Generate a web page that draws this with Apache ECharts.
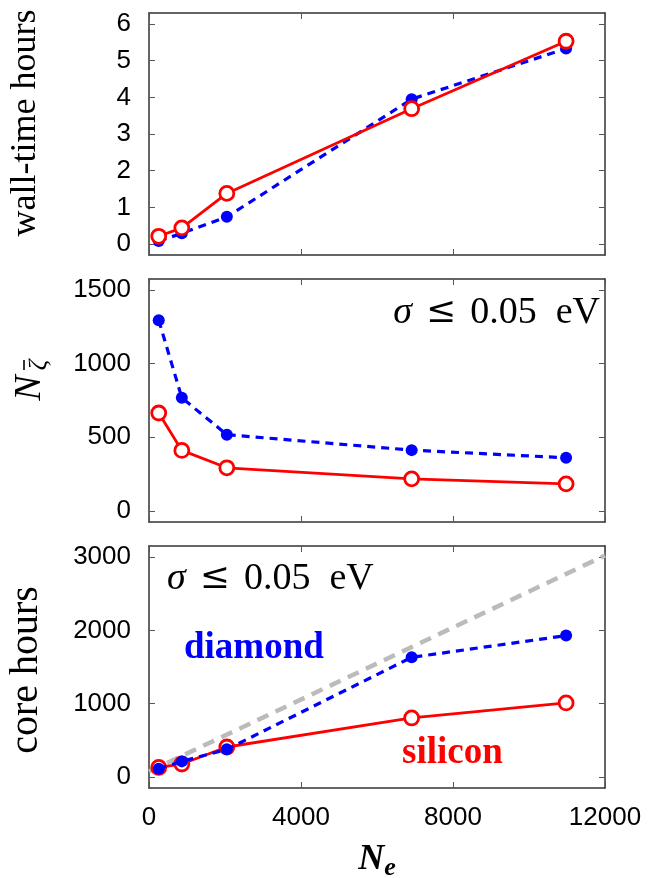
<!DOCTYPE html>
<html>
<head>
<meta charset="utf-8">
<script src="https://cdn.jsdelivr.net/npm/echarts@6/dist/echarts.min.js"></script>
<style>
html,body{margin:0;padding:0;background:#fff;}
#chart{width:656px;height:878px;}
</style>
</head>
<body>
<div id="chart"></div>
<script>
// ---- data ----
const electrons = [256, 864, 2048, 6912, 10976];
const wallDiamond = [0.08, 0.29, 0.74, 3.95, 5.33];
const wallSilicon = [0.21, 0.44, 1.38, 3.69, 5.53];
const nzDiamond = [1295, 768, 518, 413, 361];
const nzSilicon = [665, 411, 293, 218, 184];
const coreDiamond = [113, 213, 377, 1632, 1928];
const coreSilicon = [130, 177, 409, 805, 1010];
const guideX = [0, 12000];
const guideY = [75, 3020];
const xTicks = [0, 4000, 8000, 12000];
const wallTicks = [0, 1, 2, 3, 4, 5, 6];
const nzTicks = [0, 500, 1000, 1500];
const coreTicks = [0, 1000, 2000, 3000];

const pairs = (xs, ys) => xs.map((x, i) => [x, ys[i]]);

const FRAME = '#333333';
const SANS = 'Liberation Sans';
const SERIF = 'Liberation Serif';

const grids = [
  {left: 149, width: 456, top: 13, height: 242},
  {left: 149, width: 456, top: 279, height: 243},
  {left: 149, width: 456, top: 546, height: 242}
];
const yRanges = [[-0.3, 6.3, wallTicks], [-75, 1575, nzTicks], [-150, 3150, coreTicks]];

const xAxes = [], yAxes = [];
grids.forEach((g, i) => {
  const common = {
    gridIndex: i, type: 'value', min: 0, max: 12000, interval: 4000,
    splitLine: {show: false},
    axisLine: {show: true, onZero: false, lineStyle: {color: FRAME, width: 1.5}},
    axisTick: {show: true, inside: true, length: 6, customValues: xTicks, lineStyle: {color: '#555', width: 1}}
  };
  xAxes.push(Object.assign({}, common, {
    position: 'bottom',
    axisLabel: {show: i === 2, customValues: xTicks, margin: 17, fontSize: 26, fontFamily: SANS, color: '#000',
      formatter: v => String(v)}
  }));
  xAxes.push(Object.assign({}, common, {position: 'top', axisLabel: {show: false}}));
  const [mn, mx, tk] = yRanges[i];
  const ycommon = {
    gridIndex: i, type: 'value', min: mn, max: mx,
    splitLine: {show: false},
    axisLine: {show: true, onZero: false, lineStyle: {color: FRAME, width: 1.5}},
    axisTick: {show: true, inside: true, length: 6, customValues: tk, lineStyle: {color: '#555', width: 1}}
  };
  yAxes.push(Object.assign({}, ycommon, {
    position: 'left',
    axisLabel: {show: true, customValues: tk, margin: 18, fontSize: 26, fontFamily: SANS, color: '#000',
      formatter: v => String(v)}
  }));
  yAxes.push(Object.assign({}, ycommon, {position: 'right', axisLabel: {show: false}}));
});

function redSeries(i, ys, z) {
  return {
    type: 'line', xAxisIndex: 2 * i, yAxisIndex: 2 * i, data: pairs(electrons, ys),
    symbol: 'circle', symbolSize: 14, z: z,
    itemStyle: {color: '#ffffff', borderColor: '#ff0000', borderWidth: 2.8},
    lineStyle: {color: '#ff0000', width: 2.8}
  };
}
function blueSeries(i, ys, z) {
  return {
    type: 'line', xAxisIndex: 2 * i, yAxisIndex: 2 * i, data: pairs(electrons, ys),
    symbol: 'circle', symbolSize: 12, z: z,
    itemStyle: {color: '#0000ff'},
    lineStyle: {color: '#0000ff', width: 3.2, type: [8, 6]}
  };
}

const series = [
  blueSeries(0, wallDiamond, 2), redSeries(0, wallSilicon, 3),
  blueSeries(1, nzDiamond, 2), redSeries(1, nzSilicon, 3),
  {
    type: 'line', xAxisIndex: 4, yAxisIndex: 4, data: pairs(guideX, guideY),
    symbol: 'none', z: 1, silent: true,
    lineStyle: {color: '#bbbbbb', width: 4.5, type: [12, 8]}
  },
  redSeries(2, coreSilicon, 2), blueSeries(2, coreDiamond, 3)
];

const sigmaRich = {
  i: {fontFamily: SERIF, fontStyle: 'italic', fontSize: 38, fill: '#000'},
  o: {fontFamily: 'DejaVu Serif', fontSize: 36, fill: '#000', padding: [0, 14, 0, 14]},
  r: {fontFamily: SERIF, fontSize: 38, fill: '#000'}
};
const sigmaText = '{i|σ}{o|≤}{r|0.05  eV}';

const graphic = [
  {type: 'text', x: 26, y: 123, rotation: Math.PI / 2,
    style: {text: 'wall-time hours', font: '36px "Liberation Serif"', fill: '#000', align: 'center', verticalAlign: 'middle'}},
  {type: 'group', x: 30, y: 382, rotation: Math.PI / 2, children: [
    {type: 'text', x: -6, y: 0,
      style: {text: 'N', font: 'italic 38px "Liberation Serif"', fill: '#000', align: 'center', verticalAlign: 'middle'}},
    {type: 'text', x: 17, y: 9,
      style: {text: 'ζ', font: 'italic 26px "Liberation Serif"', fill: '#000', align: 'center', verticalAlign: 'middle'}},
    {type: 'line', shape: {x1: 12, y1: -6, x2: 22, y2: -6}, style: {stroke: '#000', lineWidth: 1.6}}
  ]},
  {type: 'text', x: 26, y: 670, rotation: Math.PI / 2,
    style: {text: 'core hours', font: '40px "Liberation Serif"', fill: '#000', align: 'center', verticalAlign: 'middle'}},
  {type: 'text', x: 377, y: 860,
    style: {text: '{n|N}{s|e}', align: 'center', verticalAlign: 'middle',
      rich: {n: {fontFamily: SERIF, fontStyle: 'italic', fontWeight: 'bold', fontSize: 36, fill: '#000'},
             s: {fontFamily: SERIF, fontStyle: 'italic', fontWeight: 'bold', fontSize: 26, fill: '#000', padding: [16, 0, 0, 0]}}}},
  {type: 'text', x: 600, y: 313,
    style: {text: sigmaText, align: 'right', verticalAlign: 'middle', rich: sigmaRich}},
  {type: 'text', x: 167, y: 579,
    style: {text: sigmaText, align: 'left', verticalAlign: 'middle', rich: sigmaRich}},
  {type: 'text', x: 184, y: 648,
    style: {text: 'diamond', font: 'bold 37px "Liberation Serif"', fill: '#0000ff', align: 'left', verticalAlign: 'middle'}},
  {type: 'text', x: 402, y: 753,
    style: {text: 'silicon', font: 'bold 37px "Liberation Serif"', fill: '#ff0000', align: 'left', verticalAlign: 'middle'}}
];

const chart = echarts.init(document.getElementById('chart'), null, {renderer: 'canvas'});
chart.setOption({
  animation: false,
  backgroundColor: '#ffffff',
  grid: grids,
  xAxis: xAxes,
  yAxis: yAxes,
  series: series,
  graphic: graphic
});
</script>
</body>
</html>
